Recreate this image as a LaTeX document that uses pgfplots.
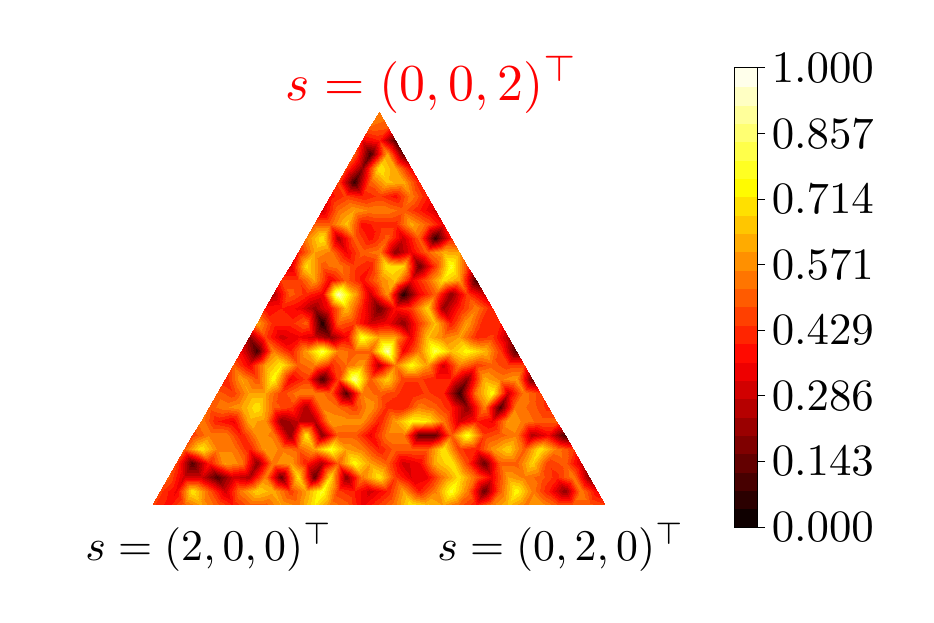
\documentclass[border=0pt]{standalone}
\usepackage{pgfplots}
\pgfplotsset{compat=1.18}
\def\conn{}
\def\NN{28}
\pgfmathtruncatemacro\NNm{\NN-1}
\foreach \j in {0,...,\NNm}{%
  \pgfmathtruncatemacro\last{\NNm-\j}%
  \foreach \i in {0,...,\last}{%
    \edef\a{\the\numexpr \j*(\NN+1)-\j*(\j-1)/2+\i\relax}%
    \edef\b{\the\numexpr\a+1\relax}%
    \edef\c{\the\numexpr\a+\NN+1-\j\relax}%
    \edef\d{\the\numexpr\c+1\relax}%
    \xdef\conn{\unexpanded\expandafter{\conn}\a\space\b\space\c\noexpand\\}%
    \ifnum\i<\last\relax
      \xdef\conn{\unexpanded\expandafter{\conn}\b\space\c\space\d\noexpand\\}%
    \fi
  }%
}
\edef\tmp{\noexpand\pgfplotsset{mypatch/.style={patch table={\unexpanded\expandafter{\conn}}}}}
\tmp
\pgfplotsset{colormap={myhot}{rgb(0)=(0.06,0,0) rgb(0.359)=(1,0,0) rgb(0.756)=(1,1,0) rgb(1)=(1,1,0.92)}}
\begin{document}
\begin{tikzpicture}[x=1bp,y=1bp]
\useasboundingbox (0,0) rectangle (934,623);
\begin{axis}[
  at={(152bp,118bp)},anchor=south west,scale only axis,
  width=453bp,height=393bp,
  xmin=0,xmax=28,ymin=0,ymax=28,
  hide x axis, hide y axis, clip=false,
  colormap name=myhot,
  colormap={band}{samples of colormap=(25 of myhot)},
  colormap access=piecewise constant,
  point meta min=0,point meta max=1,
  colorbar,colorbar sampled,
  colorbar style={samples=26,at={(1.2848,-0.056)},anchor=south west,width=23bp,height=459bp,
    ytick={0,0.142857,0.285714,0.428571,0.571429,0.714286,0.857143,1},
    yticklabel style={scale=4.5,inner xsep=0.5pt,xshift=0.8bp,/pgf/number format/.cd,fixed,fixed zerofill,precision=3},
    tick align=outside,major tick length=8bp,
    ytick style={line width=1pt,black},axis line style={line width=1pt},
    ytick pos=right},
]
\addplot[patch,patch type=triangle,shader=interp,table/row sep=\\,mypatch,point meta=\thisrow{v}]
  table[row sep=\\,x expr=\thisrow{i}+0.5*\thisrow{j},y expr=\thisrow{j}]{
  i j v\\
0 0 .45\\1 0 .38\\2 0 .5\\3 0 .6\\4 0 .5\\5 0 .4\\6 0 .5\\7 0 .5\\8 0 .6\\9 0 .55\\10 0 .72\\11 0 .55\\12 0 .5\\13 0 .35\\14 0 .45\\15 0 .55\\16 0 .72\\17 0 .65\\18 0 .6\\19 0 .5\\20 0 .4\\21 0 .55\\22 0 .65\\23 0 .55\\24 0 .6\\25 0 .5\\26 0 .5\\27 0 .5\\28 0 .45\\
0 1 .45\\1 1 .35\\2 1 .72\\3 1 .5\\4 1 .3\\5 1 .55\\6 1 .68\\7 1 .62\\8 1 .45\\9 1 .6\\10 1 .78\\11 1 .45\\12 1 .4\\13 1 .3\\14 1 .4\\15 1 .6\\16 1 .4\\17 1 .55\\18 1 .78\\19 1 .55\\20 1 .15\\21 1 .5\\22 1 .75\\23 1 .55\\24 1 .4\\25 1 .2\\26 1 .55\\27 1 .35\\
0 2 .5\\1 2 .3\\2 2 .3\\3 2 .12\\4 2 .3\\5 2 .25\\6 2 .55\\7 2 .15\\8 2 .7\\9 2 .15\\10 2 .7\\11 2 .2\\12 2 .55\\13 2 .72\\14 2 .45\\15 2 .32\\16 2 .35\\17 2 .55\\18 2 .7\\19 2 .5\\20 2 .35\\21 2 .6\\22 2 .55\\23 2 .5\\24 2 .42\\25 2 .55\\26 2 .2\\
0 3 .45\\1 3 .12\\2 3 .4\\3 3 .6\\4 3 .55\\5 3 .2\\6 3 .55\\7 3 .6\\8 3 .4\\9 3 .25\\10 3 .5\\11 3 .75\\12 3 .6\\13 3 .5\\14 3 .3\\15 3 .35\\16 3 .62\\17 3 .72\\18 3 .45\\19 3 .15\\20 3 .5\\21 3 .5\\22 3 .68\\23 3 .45\\24 3 .5\\25 3 .3\\
0 4 .5\\1 4 .72\\2 4 .55\\3 4 .55\\4 4 .4\\5 4 .6\\6 4 .55\\7 4 .5\\8 4 .6\\9 4 .78\\10 4 .6\\11 4 .55\\12 4 .4\\13 4 .5\\14 4 .5\\15 4 .5\\16 4 .72\\17 4 .45\\18 4 .4\\19 4 .58\\20 4 .68\\21 4 .5\\22 4 .72\\23 4 .55\\24 4 .45\\
0 5 .45\\1 5 .55\\2 5 .55\\3 5 .4\\4 5 .58\\5 5 .55\\6 5 .2\\7 5 .72\\8 5 .2\\9 5 .5\\10 5 .5\\11 5 .35\\12 5 .55\\13 5 .55\\14 5 .15\\15 5 .15\\16 5 .5\\17 5 .78\\18 5 .45\\19 5 .5\\20 5 .55\\21 5 .25\\22 5 .35\\23 5 .1\\
0 6 .55\\1 6 .4\\2 6 .35\\3 6 .62\\4 6 .58\\5 6 .2\\6 6 .28\\7 6 .25\\8 6 .6\\9 6 .58\\10 6 .58\\11 6 .4\\12 6 .6\\13 6 .75\\14 6 .72\\15 6 .55\\16 6 .3\\17 6 .4\\18 6 .35\\19 6 .6\\20 6 .55\\21 6 .5\\22 6 .5\\
0 7 .5\\1 7 .55\\2 7 .6\\3 7 .72\\4 7 .5\\5 7 .45\\6 7 .25\\7 7 .55\\8 7 .52\\9 7 .45\\10 7 .6\\11 7 .42\\12 7 .4\\13 7 .55\\14 7 .5\\15 7 .4\\16 7 .2\\17 7 .55\\18 7 .12\\19 7 .55\\20 7 .5\\21 7 .42\\
0 8 .5\\1 8 .45\\2 8 .6\\3 8 .6\\4 8 .45\\5 8 .55\\6 8 .55\\7 8 .5\\8 8 .12\\9 8 .55\\10 8 .5\\11 8 .45\\12 8 .4\\13 8 .45\\14 8 .4\\15 8 .08\\16 8 .55\\17 8 .75\\18 8 .3\\19 8 .55\\20 8 .45\\
0 9 .4\\1 9 .6\\2 9 .48\\3 9 .75\\4 9 .35\\5 9 .45\\6 9 .1\\7 9 .45\\8 9 .9\\9 9 .5\\10 9 .68\\11 9 .45\\12 9 .45\\13 9 .4\\14 9 .4\\15 9 .2\\16 9 .62\\17 9 .55\\18 9 .6\\19 9 .15\\
0 10 .5\\1 10 .35\\2 10 .6\\3 10 .72\\4 10 .5\\5 10 .55\\6 10 .42\\7 10 .52\\8 10 .6\\9 10 .25\\10 10 .55\\11 10 .75\\12 10 .6\\13 10 .3\\14 10 .55\\15 10 .45\\16 10 .5\\17 10 .45\\18 10 .45\\
0 11 .35\\1 11 .1\\2 11 .55\\3 11 .4\\4 11 .6\\5 11 .82\\6 11 .55\\7 11 .5\\8 11 .5\\9 11 .92\\10 11 .35\\11 11 .55\\12 11 .82\\13 11 .65\\14 11 .75\\15 11 .65\\16 11 .45\\17 11 .12\\
0 12 .2\\1 12 .45\\2 12 .3\\3 12 .35\\4 12 .3\\5 12 .2\\6 12 .35\\7 12 .78\\8 12 .6\\9 12 .6\\10 12 .35\\11 12 .65\\12 12 .55\\13 12 .6\\14 12 .42\\15 12 .45\\16 12 .25\\
0 13 .6\\1 13 .42\\2 13 .42\\3 13 .5\\4 13 .05\\5 13 .5\\6 13 .45\\7 13 .3\\8 13 .35\\9 13 .2\\10 13 .45\\11 13 .65\\12 13 .4\\13 13 .6\\14 13 .4\\15 13 .4\\
0 14 .38\\1 14 .4\\2 14 .35\\3 14 .22\\4 14 .38\\5 14 .65\\6 14 .4\\7 14 .15\\8 14 .38\\9 14 .45\\10 14 .68\\11 14 .22\\12 14 .4\\13 14 .55\\14 14 .4\\
0 15 .25\\1 15 .5\\2 15 .42\\3 15 .35\\4 15 .92\\5 15 .62\\6 15 .3\\7 15 .58\\8 15 .05\\9 15 .35\\10 15 .5\\11 15 .2\\12 15 .45\\13 15 .3\\
0 16 .45\\1 16 .45\\2 16 .6\\3 16 .35\\4 16 .5\\5 16 .38\\6 16 .55\\7 16 .65\\8 16 .35\\9 16 .5\\10 16 .7\\11 16 .6\\12 16 .1\\
0 17 .3\\1 17 .7\\2 17 .5\\3 17 .55\\4 17 .45\\5 17 .4\\6 17 .72\\7 17 .68\\8 17 .15\\9 17 .45\\10 17 .78\\11 17 .45\\
0 18 .4\\1 18 .6\\2 18 .55\\3 18 .35\\4 18 .5\\5 18 .55\\6 18 .2\\7 18 .35\\8 18 .5\\9 18 .62\\10 18 .6\\
0 19 .55\\1 19 .72\\2 19 .25\\3 19 .5\\4 19 .38\\5 19 .5\\6 19 .3\\7 19 .5\\8 19 .08\\9 19 .4\\
0 20 .5\\1 20 .5\\2 20 .66\\3 20 .38\\4 20 .42\\5 20 .42\\6 20 .62\\7 20 .5\\8 20 .35\\
0 21 .3\\1 21 .52\\2 21 .6\\3 21 .55\\4 21 .55\\5 21 .5\\6 21 .4\\7 21 .3\\
0 22 .38\\1 22 .45\\2 22 .4\\3 22 .45\\4 22 .38\\5 22 .55\\6 22 .4\\
0 23 .45\\1 23 .08\\2 23 .5\\3 23 .65\\4 23 .62\\5 23 .4\\
0 24 .45\\1 24 .2\\2 24 .72\\3 24 .6\\4 24 .35\\
0 25 .5\\1 25 .1\\2 25 .6\\3 25 .15\\
0 26 .35\\1 26 .4\\2 26 .12\\
0 27 .52\\1 27 .5\\
0 28 .55\\
  };
\end{axis}
\node[red,scale=5.2] at (432,538) {$s=(0,0,2)^\top$};
\node[scale=4.4] at (209,76) {$s=(2,0,0)^\top$};
\node[scale=4.4] at (561,76) {$s=(0,2,0)^\top$};
\end{tikzpicture}
\end{document}
